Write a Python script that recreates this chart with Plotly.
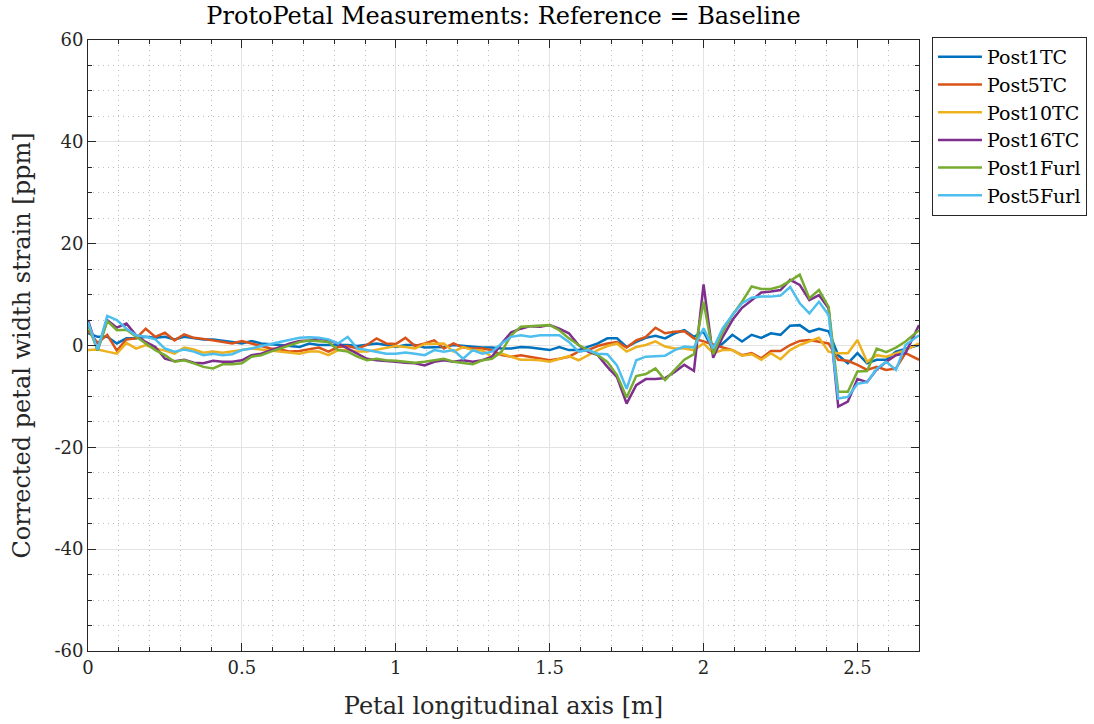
import plotly.graph_objects as go

# x positions of the measurement stations [m]
x_pos = [i / 32 for i in range(86)] + [2.7]

post1tc = [2.4, 1.7, 1.7, 0.4, 1.4, 1.4, 1.7, 1.5, 1.7, 1.2, 1.7, 1.4, 1.2, 1.2, 1.0,
           0.7, 0.4, 0.9, 0.4, 0.3, 0.1, -0.1, -0.3, 0.4, 0.1, 0.1, 0.1, 0.1, -0.1, 0.1,
           0.4, 0.1, -0.3, 0.1, 0.1, -0.4, -0.3, -0.3, 0.1, -0.1, -0.3, -0.4, -0.4, -0.6,
           -0.6, -0.3, -0.4, -0.6, -0.9, -0.3, -0.9, -0.9, -0.3, 0.4, 1.4, 1.4, -0.3, 0.7, 1.5,
           1.9, 1.4, 2.4, 3.0, 1.7, 2.7, -0.9, 0.4, 2.1, 0.8, 2.1, 1.5, 2.4, 2.1,
           3.9, 4.0, 2.7, 3.3, 2.8, -1.9, -3.5, -1.5, -3.5, -2.8, -2.8, -1.2, -0.6, 0.1]

post5tc = [3.0, 0.5, 2.1, -1.0, 1.2, 1.4, 3.3, 1.7, 2.5, 1.0, 2.2, 1.5, 1.3, 1.0, 0.7,
           0.4, 0.9, 0.4, -0.1, -0.6, -0.8, -1.2, -1.1, -0.8, -0.4, -1.2, -0.3, -0.1, -0.6, 0.1,
           1.4, 0.4, 0.3, 1.5, -0.1, 0.4, 1.0, -0.6, 0.4, -0.4, -0.6, -0.6, -0.9, -1.9,
           -2.2, -1.9, -2.2, -2.6, -2.9, -2.6, -2.2, -1.2, -0.9, -0.1, 0.4, 0.7, -0.4, 1.0, 1.7,
           3.5, 2.4, 2.7, 2.8, 1.4, 0.8, 0.1, -0.4, -0.9, -1.9, -1.5, -2.5, -1.1, -1.1,
           0.1, 0.9, 1.1, 0.8, 0.4, -2.8, -3.0, -3.8, -4.8, -4.2, -4.8, -4.5, -1.5, -2.8]

post10tc = [-0.9, -0.8, -1.2, -1.6, 0.5, -0.6, 0.1, -0.6, -1.0, -1.6, -0.4, -0.8, -1.4, -1.2, -1.4,
            -1.2, -0.9, -0.6, -0.8, -1.0, -1.2, -1.4, -1.6, -1.2, -1.2, -1.9, -0.9, -0.9, -1.2, -1.2,
            -0.8, -0.4, -0.1, -0.3, -0.6, 0.3, 0.4, 0.4, -1.2, -0.3, -0.9, -1.0, -2.2, -1.6,
            -2.2, -2.8, -2.8, -2.9, -3.2, -2.6, -2.1, -2.9, -1.9, -0.9, -0.1, 0.4, -1.2, -0.3, 0.1,
            0.8, -0.2, -0.6, -0.6, -0.9, 0.4, -1.5, -0.9, -0.9, -2.0, -1.7, -2.8, -1.5, -2.7,
            -0.9, 0.1, 0.8, 1.5, -1.2, -1.5, -1.5, 1.1, -3.2, -1.9, -2.2, -1.5, -0.9, 0.4]

post16tc = [5.0, -0.9, 5.0, 3.5, 4.3, 2.0, 0.7, -0.3, -2.6, -3.1, -2.8, -3.4, -3.5, -3.0, -3.2,
            -3.2, -2.9, -1.9, -1.6, -0.9, -0.3, 0.4, 0.9, 1.0, 1.4, 1.0, 0.4, -0.6, -1.6, -2.6,
            -2.9, -3.0, -3.2, -3.4, -3.5, -3.9, -3.2, -2.9, -3.2, -2.9, -3.2, -2.9, -2.2, 0.4,
            2.6, 3.3, 3.8, 3.7, 4.0, 3.3, 2.4, 0.1, -1.2, -1.9, -4.2, -6.2, -11.4, -7.8, -6.6,
            -6.6, -6.4, -5.2, -3.8, -5.0, 12.0, -2.4, 1.7, 5.0, 7.4, 8.9, 10.4, 10.6, 10.9,
            12.9, 11.9, 8.9, 9.9, 7.3, -12.0, -11.0, -6.6, -7.2, -4.7, -3.2, -1.9, -1.5, 4.0]

post1furl = [4.0, -1.0, 4.8, 3.0, 3.1, 1.7, 0.4, -0.9, -1.9, -3.2, -2.9, -3.5, -4.2, -4.5, -3.7,
             -3.7, -3.5, -2.2, -1.9, -1.2, -0.6, 0.1, 0.7, 1.0, 0.9, 0.7, -0.9, -1.2, -2.2, -2.9,
             -2.6, -2.9, -3.0, -3.2, -3.4, -3.2, -2.9, -2.6, -3.2, -3.4, -3.7, -2.9, -2.6, -1.2,
             2.0, 3.7, 3.8, 3.8, 4.0, 3.0, 1.4, 0.1, -0.9, -1.9, -3.2, -5.8, -10.2, -6.0, -5.6,
             -4.5, -6.8, -4.8, -2.8, -1.7, 8.6, -1.7, 2.7, 6.0, 8.6, 11.6, 11.1, 11.1, 11.6,
             12.7, 13.9, 9.3, 10.9, 7.6, -9.1, -9.1, -5.1, -5.0, -0.6, -1.3, -0.4, 0.8, 3.0]

post5furl = [4.6, -0.8, 5.8, 5.0, 3.3, 2.0, 1.7, 1.2, -0.6, -1.2, -0.8, -1.2, -1.9, -1.6, -1.9,
             -1.7, -0.9, -0.6, -0.1, 0.3, 0.7, 1.2, 1.5, 1.6, 1.5, 1.2, 0.4, 1.7, -0.6, -0.9,
             -1.2, -1.6, -1.6, -1.4, -1.6, -1.9, -0.9, -1.2, -0.9, -2.6, -0.9, -1.6, -1.2, 0.4,
             1.7, 2.0, 1.7, 2.0, 2.0, 2.0, 0.7, -1.2, -0.9, -1.6, -1.7, -3.9, -8.5, -2.9, -2.2,
             -2.1, -2.0, -0.9, -0.2, -0.4, 3.4, -0.6, 3.4, 6.0, 8.3, 9.4, 9.6, 9.6, 9.8,
             11.5, 8.3, 6.3, 8.6, 6.0, -10.4, -10.1, -7.5, -7.2, -4.6, -3.2, -4.8, 0.1, 2.0]

series_names = ["Post1TC", "Post5TC", "Post10TC", "Post16TC", "Post1Furl", "Post5Furl"]
series_values = [post1tc, post5tc, post10tc, post16tc, post1furl, post5furl]
colors = ["#0072BD", "#D95319", "#EDB120", "#7E2F8E", "#77AC30", "#4DBEEE"]

y_tickvals = [-60, -40, -20, 0, 20, 40, 60]
y_ticktext = ["-60", "-40", "-20", "0", "20", "40", "60"]
x_tickvals = [0, 0.5, 1, 1.5, 2, 2.5]
x_ticktext = ["0", "0.5", "1", "1.5", "2", "2.5"]

FONT = "DejaVu Serif"
AX = "#262626"
GRID = "#e3e3e3"
MINOR = "#bdbdbd"

fig = go.Figure()
for name, vals, col in zip(series_names, series_values, colors):
    fig.add_trace(go.Scatter(x=x_pos, y=vals, mode="lines", name=name,
                             line=dict(color=col, width=2.5)))

fig.update_layout(
    width=1094, height=724,
    margin=dict(l=88, r=175, t=40, b=73, autoexpand=False),
    paper_bgcolor="white", plot_bgcolor="white",
    font=dict(family=FONT, size=19, color=AX),
    title=dict(text="ProtoPetal Measurements: Reference = Baseline",
               x=(88 + 831 / 2) / 1094, xanchor="center", y=1 - 16 / 724, yanchor="middle",
               font=dict(family=FONT, size=24, color="black")),
    showlegend=True,
    legend=dict(x=1.0156, y=1.005, xanchor="left", yanchor="top",
                bordercolor="#262626", borderwidth=1, bgcolor="white",
                font=dict(family=FONT, size=19, color="black"),
                itemwidth=44, tracegroupgap=0),
)

fig.update_xaxes(
    range=[0, 2.7], tickvals=x_tickvals, ticktext=x_ticktext,
    showline=True, linecolor=AX, linewidth=1, mirror="allticks",
    ticks="inside", ticklen=8, tickcolor=AX,
    showgrid=True, gridcolor=GRID, gridwidth=1, zeroline=False,
    tickfont=dict(family=FONT, size=18, color=AX),
    title=dict(text="Petal longitudinal axis [m]", font=dict(family=FONT, size=24, color=AX), standoff=20),
    minor=dict(dtick=0.1, tick0=0, showgrid=True, gridcolor=MINOR, griddash="1px,4px",
               ticks="inside", ticklen=4, tickcolor=AX),
)
fig.update_yaxes(
    range=[-60, 60], tickvals=y_tickvals, ticktext=y_ticktext,
    showline=True, linecolor=AX, linewidth=1, mirror="allticks",
    ticks="inside", ticklen=8, tickcolor=AX,
    showgrid=True, gridcolor=GRID, gridwidth=1, zeroline=False,
    tickfont=dict(family=FONT, size=18, color=AX),
    title=dict(text="Corrected petal width strain [ppm]", font=dict(family=FONT, size=24, color=AX), standoff=17),
    minor=dict(dtick=5, tick0=0, showgrid=True, gridcolor=MINOR, griddash="1px,4px",
               ticks="inside", ticklen=4, tickcolor=AX),
)

fig.write_html("out.html")
